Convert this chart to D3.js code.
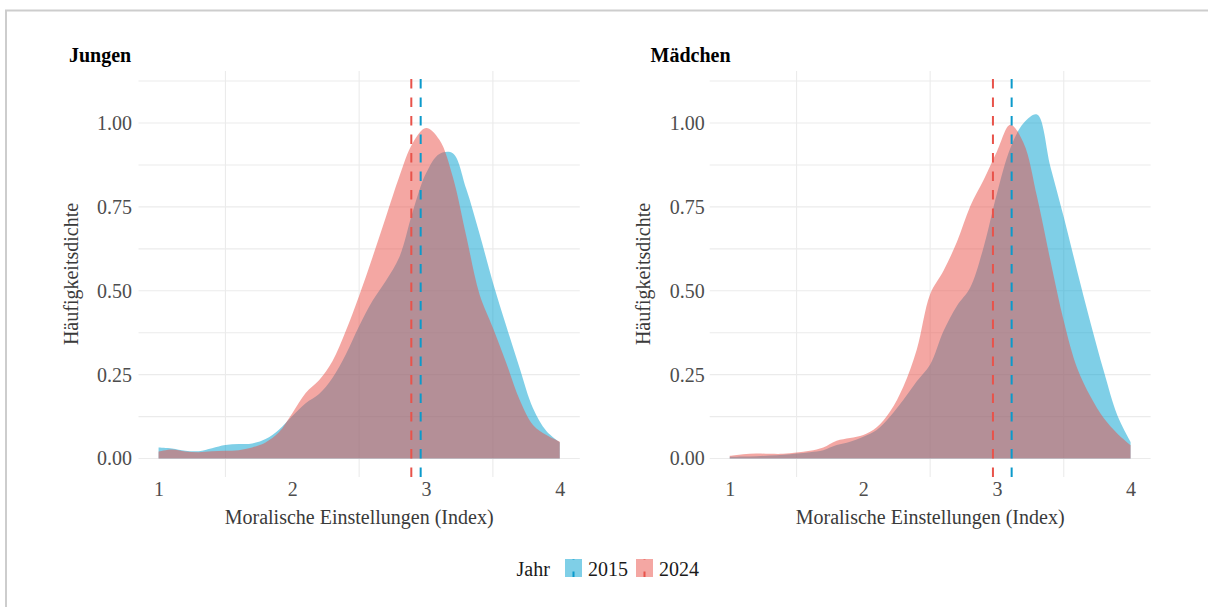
<!DOCTYPE html>
<html>
<head>
<meta charset="utf-8">
<script src="https://cdn.jsdelivr.net/npm/d3@7/dist/d3.min.js"></script>
<style>
  html, body { margin: 0; padding: 0; background: #fff; }
  svg { display: block; }
  text { font-family: "Liberation Serif", "Times New Roman", serif; }
</style>
</head>
<body>
<svg id="chart" width="1208" height="607"></svg>
<script>
// ---------------- data ----------------
const xGrid = [1.0,1.1,1.2,1.3,1.4,1.5,1.6,1.7,1.8,1.9,2.0,2.1,2.2,2.3,2.4,2.5,2.6,2.7,2.8,2.9,3.0,3.1,3.2,3.3,3.4,3.5,3.6,3.7,3.8,3.9,4.0];

const years = ["2015", "2024"];
const panels = ["Jungen", "Mädchen"];

// density estimates
const jungen2015 = [0.033,0.030,0.023,0.022,0.031,0.040,0.043,0.045,0.058,0.086,0.127,0.165,0.192,0.240,0.310,0.395,0.470,0.530,0.600,0.735,0.850,0.908,0.910,0.805,0.670,0.525,0.395,0.270,0.150,0.082,0.048];
const jungen2024 = [0.021,0.027,0.021,0.019,0.022,0.023,0.025,0.033,0.048,0.078,0.135,0.195,0.233,0.290,0.380,0.485,0.600,0.720,0.840,0.940,0.985,0.950,0.840,0.665,0.490,0.390,0.285,0.175,0.100,0.070,0.050];
const maedchen2015 = [0.005,0.006,0.007,0.009,0.011,0.015,0.019,0.025,0.040,0.050,0.065,0.085,0.125,0.175,0.230,0.280,0.380,0.455,0.510,0.630,0.790,0.925,1.000,1.025,0.870,0.720,0.560,0.405,0.260,0.130,0.050];
const maedchen2024 = [0.008,0.013,0.015,0.014,0.014,0.018,0.023,0.033,0.053,0.061,0.070,0.093,0.140,0.215,0.325,0.490,0.560,0.645,0.752,0.830,0.915,0.995,0.940,0.780,0.590,0.410,0.270,0.185,0.120,0.075,0.040];

// group means (dashed lines)
const meanJungen = [2.96, 2.89];    // 2015, 2024
const meanMaedchen = [3.11, 2.97];  // 2015, 2024

const yTicks = [0, 0.25, 0.5, 0.75, 1.0];
const xTicks = [1, 2, 3, 4];
const yGridLines = [0, 0.125, 0.25, 0.375, 0.5, 0.625, 0.75, 0.875, 1.0, 1.125];
const xGridLines = [1.5, 2.5, 3.5];

const xTitle = "Moralische Einstellungen (Index)";
const yTitle = "Häufigkeitsdichte";
const legendTitle = "Jahr";

// ---------------- style ----------------
const lineColor = { "2015": "#0B9ACB", "2024": "#E8534B" };
const fillColor = { "2015": "#009FCF", "2024": "#EA5048" };
const fillOpacity = 0.5;

const svg = d3.select("#chart");

// outer frame
svg.append("rect")
  .attr("x", 6).attr("y", 10.5)
  .attr("width", 1220).attr("height", 620)
  .attr("fill", "none").attr("stroke", "#cdcdcd").attr("stroke-width", 2);

const panelDefs = [
  { title: panels[0], left: 138.5, right: 579.8, series: [jungen2015, jungen2024], means: meanJungen,
    titleX: 69, yTitleX: 77.5, tickPad: 6.5 },
  { title: panels[1], left: 709.7, right: 1150.6, series: [maedchen2015, maedchen2024], means: meanMaedchen,
    titleX: 650.5, yTitleX: 650, tickPad: 5 }
];

const plotTop = 71, plotBottom = 477;
const y = d3.scaleLinear().domain([-0.055, 1.155]).range([plotBottom, plotTop]);

panelDefs.forEach(p => {
  const x = d3.scaleLinear().domain([0.85, 4.15]).range([p.left, p.right]);
  const g = svg.append("g");

  // grid
  g.selectAll(".hg").data(yGridLines).join("line")
    .attr("x1", p.left).attr("x2", p.right)
    .attr("y1", d => y(d)).attr("y2", d => y(d))
    .attr("stroke", "#EBEBEB").attr("stroke-width", 1.1);
  g.selectAll(".vg").data(xGridLines).join("line")
    .attr("y1", plotTop).attr("y2", plotBottom)
    .attr("x1", d => x(d)).attr("x2", d => x(d))
    .attr("stroke", "#EBEBEB").attr("stroke-width", 1.1);

  // areas: 2015 first, 2024 on top
  const area = d3.area()
    .x(d => x(d[0]))
    .y0(y(0))
    .y1(d => y(d[1]))
    .curve(d3.curveCatmullRom.alpha(0.5));
  years.forEach((yr, i) => {
    const pts = xGrid.map((xv, j) => [xv, p.series[i][j]]);
    g.append("path")
      .attr("d", area(pts))
      .attr("fill", fillColor[yr])
      .attr("fill-opacity", fillOpacity);
  });

  // mean lines
  years.forEach((yr, i) => {
    g.append("line")
      .attr("x1", x(p.means[i])).attr("x2", x(p.means[i]))
      .attr("y1", plotBottom).attr("y2", plotTop)
      .attr("stroke", lineColor[yr]).attr("stroke-width", 2)
      .attr("stroke-dasharray", "9.5,9");
  });

  // axes
  const ya = g.append("g").attr("transform", `translate(${p.left},0)`)
    .call(d3.axisLeft(y).tickValues(yTicks).tickFormat(d3.format(".2f")).tickSize(0).tickPadding(p.tickPad));
  ya.select(".domain").remove();
  ya.selectAll("text").attr("font-size", 20).attr("fill", "#4D4D4D")
    .attr("font-family", "Liberation Serif");

  const xa = g.append("g").attr("transform", `translate(0,${plotBottom})`)
    .call(d3.axisBottom(x).tickValues(xTicks).tickFormat(d3.format("d")).tickSize(0).tickPadding(4.5));
  xa.select(".domain").remove();
  xa.selectAll("text").attr("font-size", 20).attr("fill", "#4D4D4D")
    .attr("font-family", "Liberation Serif");

  // titles
  g.append("text").attr("x", p.titleX).attr("y", 62)
    .attr("font-size", 20).attr("font-weight", "bold").attr("fill", "#000")
    .text(p.title);
  g.append("text").attr("x", (p.left + p.right) / 2).attr("y", 524)
    .attr("text-anchor", "middle").attr("font-size", 20).attr("fill", "#3a3a3a")
    .text(xTitle);
  g.append("text")
    .attr("transform", `translate(${p.yTitleX},${(plotTop + plotBottom) / 2}) rotate(-90)`)
    .attr("text-anchor", "middle").attr("font-size", 20).attr("fill", "#3a3a3a")
    .text(yTitle);
});

// legend
const lg = svg.append("g");
lg.append("text").attr("x", 516.5).attr("y", 576).attr("font-size", 20).attr("fill", "#1a1a1a").text(legendTitle);
const keyX = [565, 636];
years.forEach((yr, i) => {
  lg.append("rect").attr("x", keyX[i]).attr("y", 559).attr("width", 17).attr("height", 18)
    .attr("fill", fillColor[yr]).attr("fill-opacity", fillOpacity);
  lg.append("line").attr("x1", keyX[i] + 8.5).attr("x2", keyX[i] + 8.5)
    .attr("y1", 577).attr("y2", 559)
    .attr("stroke", lineColor[yr]).attr("stroke-width", 2).attr("stroke-dasharray", "5.5,12");
  lg.append("text").attr("x", keyX[i] + 23).attr("y", 576).attr("font-size", 20).attr("fill", "#1a1a1a").text(yr);
});
</script>
</body>
</html>
